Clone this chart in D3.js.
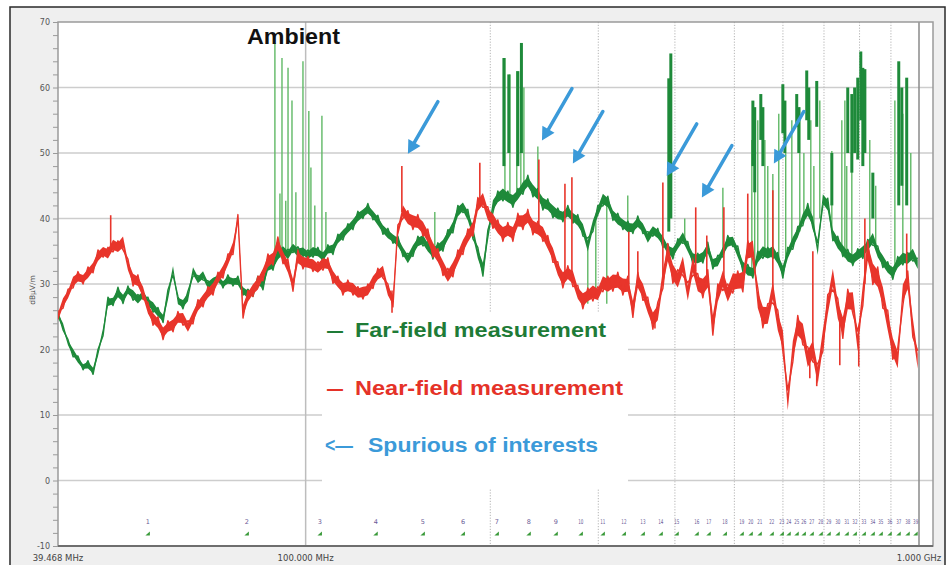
<!DOCTYPE html>
<html>
<head>
<meta charset="utf-8">
<script src="https://cdn.jsdelivr.net/npm/d3@7"></script>
<style>
  body { margin: 0; background: #fff; }
  svg { display: block; }
</style>
</head>
<body>
<svg id="chart" width="947" height="565"></svg>
<script>
// Sweep frequencies (MHz) and the two measured traces (dBµV/m, bin centre level)
const sweepMHz = [
  39.47, 40.22, 40.98, 41.77, 42.54, 43.36, 44.17, 45.02, 45.86, 46.74,
  47.61, 48.53, 49.43, 50.38, 51.32, 52.31, 53.28, 54.31, 55.32, 56.39,
  57.44, 58.55, 59.63, 60.78, 61.91, 63.10, 64.28, 65.52, 66.74, 68.03,
  69.29, 70.63, 71.94, 73.33, 74.69, 76.13, 77.55, 79.05, 80.51, 82.06,
  83.59, 85.20, 86.79, 88.46, 90.10, 91.84, 93.55, 95.36, 97.13, 99.00,
  100.84, 102.79, 104.70, 106.72, 108.70, 110.80, 112.86, 115.04, 117.18, 119.44,
  121.66, 124.01, 126.31, 128.75, 131.14, 133.67, 136.16, 138.79, 141.37, 144.10,
  146.77, 149.60, 152.39, 155.33, 158.21, 161.26, 164.26, 167.43, 170.55, 173.84,
  177.07, 180.49, 183.84, 187.39, 190.87, 194.55, 198.17, 201.99, 205.75, 209.72,
  213.62, 217.74, 221.79, 226.07, 230.27, 234.71, 239.08, 243.69, 248.22, 253.01,
  257.71, 262.68, 267.57, 272.73, 277.80, 283.16, 288.43, 293.99, 299.46, 305.24,
  310.91, 316.91, 322.80, 329.03, 335.14, 341.61, 347.96, 354.68, 361.27, 368.24,
  375.09, 382.33, 389.43, 396.95, 404.33, 412.13, 419.79, 427.89, 435.84, 444.25,
  452.51, 461.24, 469.82, 478.88, 487.79, 497.20, 506.44, 516.21, 525.81, 535.96,
  545.92, 556.46, 566.80, 577.74, 588.48, 599.84, 610.98, 622.77, 634.35, 646.59,
  658.61, 671.31, 683.80, 696.98, 709.95, 723.65, 737.10, 751.33, 765.29, 780.06,
  794.56, 809.90, 824.95, 840.87, 856.50, 873.03, 889.26, 906.42, 923.27, 941.09,
  958.58, 977.08, 995.24
];

const farField = [
  25.2, 23.6, 21, 19.6, 18.4, 17.4, 17.6, 16.8, 19.4, 22.8,
  27.2, 27.4, 28.6, 27.8, 29, 28.4, 27.6, 28.4, 27.2, 26.6,
  25.6, 24.8, 28.2, 32.2, 27.4, 27, 28, 32, 30.6, 31.4,
  29.8, 30.4, 30.8, 30, 30.6, 30.4, 30.4, 29, 28.4, 28.8,
  30.4, 30, 32.6, 33, 34.4, 35.2, 34.4, 35.6, 34.8, 35,
  34.4, 35, 34.8, 34.2, 35.2, 35.4, 36.8, 37.6, 38.4, 39.2,
  40.2, 40.8, 41.4, 40.6, 39.6, 38.4, 37.6, 37, 36.4, 35,
  33.8, 35.2, 36.4, 36.8, 35.6, 34.8, 35.4, 36, 37.4, 38.8,
  41, 41.8, 40.4, 38, 34.6, 32.4, 37.2, 42, 43.2, 43.8,
  43.2, 42.8, 43.6, 44.8, 45.6, 44.4, 43.6, 42.4, 42, 41.2,
  40.6, 40.4, 41, 40.2, 39.6, 38.4, 35.8, 39, 41, 43,
  42.4, 40.6, 39.8, 39.2, 38.6, 38.6, 39.4, 38.6, 37, 38.2,
  37.6, 36.6, 35.2, 34.8, 36, 37.2, 35.6, 34, 33.8, 34.2,
  35.4, 33.2, 33.4, 35, 36.4, 36.6, 34.8, 32.8, 32, 31.8,
  34, 35, 34.6, 35, 33.8, 32, 34.6, 36.4, 37.8, 40,
  41.2, 39.6, 35.2, 43, 42, 37.6, 36.2, 35.2, 34.2, 33.8,
  34.4, 35, 35.8, 37, 34.8, 33.6, 32.4, 31.8, 33.2, 34,
  33.8, 34.6, 33
];

// Half-span between peak and valley detector within each bin (dB)
const farSpan = [
  0.5, 0.6, 0.5, 0.7, 0.6, 0.5, 0.7, 0.6, 0.6, 0.7,
  0.8, 0.7, 0.9, 0.8, 0.7, 0.9, 0.8, 0.7, 0.8, 0.9,
  0.8, 0.7, 0.9, 0.8, 0.7, 0.8, 0.9, 0.8, 0.7, 0.8,
  0.7, 0.8, 0.7, 0.6, 0.8, 0.7, 0.8, 0.7, 0.8, 0.7,
  0.8, 0.9, 0.8, 0.9, 1.0, 0.8, 0.9, 0.8, 0.9, 0.8,
  0.8, 0.9, 0.8, 0.9, 0.8, 0.9, 0.8, 0.9, 0.8, 0.9,
  0.9, 0.8, 0.9, 0.8, 0.9, 0.8, 0.9, 0.8, 0.9, 0.8,
  0.9, 1.0, 0.9, 1.0, 0.9, 1.0, 0.9, 1.0, 0.9, 1.0,
  1.0, 0.9, 1.0, 1.1, 1.0, 1.2, 1.0, 1.1, 1.0, 1.1,
  1.0, 1.1, 1.0, 1.1, 1.0, 1.1, 1.0, 1.1, 1.0, 1.1,
  1.0, 0.9, 1.0, 0.9, 1.0, 1.1, 1.2, 1.0, 1.0, 1.1,
  1.0, 0.9, 1.0, 0.9, 1.0, 0.9, 1.0, 0.9, 1.0, 0.9,
  0.9, 1.0, 0.9, 1.0, 0.9, 1.0, 0.9, 1.0, 0.9, 1.0,
  1.0, 0.9, 1.0, 0.9, 1.0, 0.9, 1.0, 0.9, 1.0, 0.9,
  1.0, 1.1, 1.0, 1.1, 1.0, 1.1, 1.0, 1.1, 1.0, 1.1,
  1.1, 1.0, 1.1, 1.0, 1.1, 1.0, 1.1, 1.0, 1.1, 1.0,
  1.0, 1.1, 1.0, 1.1, 1.0, 1.1, 1.0, 1.1, 1.0, 1.1,
  1.0, 1.1, 1.0
];

const nearField = [
  25, 27.2, 28.4, 30.4, 31, 30.8, 31.6, 32.6, 34.2, 35,
  34.6, 36, 35.6, 36.4, 32.8, 30.8, 30.4, 28.8, 26.2, 24.8,
  24, 22.6, 23.4, 23.8, 24.8, 24.8, 23.4, 25, 26.6, 27.6,
  28.6, 29.4, 30.8, 32, 33.6, 35.6, 39.8, 26, 28, 29.2,
  30, 31.6, 33.4, 34, 36, 34.2, 32.6, 30, 34, 33.4,
  33.2, 33, 32.4, 33.2, 33, 31.2, 30.2, 29.4, 29.6, 29.4,
  28.6, 28.8, 29, 30.4, 31.4, 32, 29, 27.6, 38, 41.2,
  40, 39.6, 39.4, 38.6, 37.2, 35.4, 34.2, 32.6, 31.2, 32.4,
  34, 35.8, 37.2, 38.6, 42, 43, 40.6, 39.8, 38.6, 37.8,
  38.2, 37.8, 39.6, 39.6, 40.2, 38.8, 38.4, 37.8, 36.2, 34.6,
  32.2, 30.8, 31.6, 31, 28.6, 27.6, 28.2, 28.8, 28.4, 30.2,
  29.8, 30.4, 30.4, 29.8, 29.8, 26.4, 30.4, 29, 26.6, 24.6,
  25.6, 31, 34.6, 31.8, 30.6, 33, 28.6, 33, 30, 29.6,
  30.6, 24, 28.4, 30.8, 28.4, 30.4, 30.4, 30.6, 35, 35.4,
  27.6, 25.2, 25.2, 29, 24.2, 21.6, 12, 20, 23.4, 22.6,
  18.6, 20, 16, 21.6, 26.6, 31, 26, 23.6, 27.4, 27.4,
  21, 28.6, 34.8, 31.8, 30.8, 28.2, 24.2, 20.4, 18.4, 28.6,
  30.4, 23.6, 18.2
];

const nearSpan = [
  0.8, 0.9, 0.8, 1.0, 0.9, 0.8, 1.0, 0.9, 1.0, 0.9,
  1.0, 1.1, 1.0, 1.2, 1.0, 1.1, 1.0, 1.1, 1.0, 1.1,
  1.0, 1.1, 1.0, 1.1, 1.0, 1.1, 1.0, 1.1, 1.0, 1.1,
  1.0, 1.1, 1.0, 1.1, 1.0, 1.1, 0.8, 1.2, 1.0, 1.1,
  1.2, 1.1, 1.2, 1.1, 1.2, 1.1, 1.2, 1.1, 1.2, 1.1,
  1.0, 1.1, 1.0, 1.1, 1.0, 1.1, 1.0, 1.1, 1.0, 1.1,
  1.0, 1.1, 1.0, 1.1, 1.0, 1.1, 1.0, 1.1, 1.0, 1.2,
  1.2, 1.3, 1.2, 1.3, 1.2, 1.3, 1.2, 1.3, 1.2, 1.3,
  1.2, 1.3, 1.2, 1.3, 1.2, 1.3, 1.2, 1.3, 1.2, 1.3,
  1.2, 1.3, 1.2, 1.3, 1.2, 1.3, 1.2, 1.3, 1.2, 1.3,
  1.2, 1.4, 1.2, 1.4, 1.2, 1.4, 1.2, 1.4, 1.2, 1.4,
  1.4, 1.5, 1.4, 1.5, 1.4, 1.5, 1.4, 1.5, 1.4, 1.5,
  1.6, 1.7, 1.6, 1.7, 1.6, 1.7, 1.6, 1.7, 1.6, 1.7,
  1.6, 1.8, 1.6, 1.8, 1.6, 1.8, 1.6, 1.8, 1.6, 1.8,
  1.8, 1.9, 1.8, 1.9, 1.8, 1.9, 1.8, 1.9, 1.8, 1.9,
  1.8, 1.9, 1.8, 1.9, 1.8, 1.9, 1.8, 1.9, 1.8, 1.9,
  1.8, 1.9, 1.8, 1.9, 1.8, 1.9, 1.8, 1.9, 1.8, 1.9,
  1.6, 1.7, 1.6
];

// Narrow emissions on the far-field trace: [MHz, from dB, to dB]
const farSpurs = [
  [89.1, 33, 66.8], [90.8, 34, 43.8], [91.5, 34, 64.5], [92.8, 35, 42.7],
  [93.6, 34, 63], [95.0, 35, 58], [96.4, 35, 44], [99.0, 35, 64],
  [101.2, 34, 56.4], [102.0, 35, 47.8], [103.5, 35, 42], [106.3, 34, 55.7],
  [107.9, 35, 41], [162.4, 35, 41],
  [211.3, 44, 64.5], [215.3, 43, 62], [220.9, 43, 62.5], [224.3, 44, 66.8], [226.9, 45, 60],
  [239.1, 43.6, 51], [288.4, 35.8, 27], [297.2, 40, 28], [309.7, 42, 27],
  [335.1, 38.6, 43.5], [415.0, 36, 40], [478.9, 35, 44.7],
  [533.9, 32, 52], [539.7, 32, 50], [545.9, 34, 55], [560.7, 35, 52], [566.8, 34.6, 48],
  [577.7, 35, 46.8], [590.7, 33, 56], [606.3, 34, 50], [620.4, 36, 55], [639.2, 38, 57],
  [649.1, 40, 50], [666.2, 40, 55], [673.9, 38, 48], [689.1, 40, 58],
  [720.9, 38, 50.3], [748.5, 35, 55], [757.1, 34, 58], [762.4, 34, 48], [777.1, 34, 56],
  [831.3, 36, 52], [850.0, 36, 45], [913.4, 32, 58], [941.1, 34, 56], [969.6, 34, 50]
];

// Intermittent carriers held near the top of the far-field sweep: [MHz, bottom dB, top dB]
const farBursts = [
  [210.5, 48, 64.5], [214.4, 50, 62], [221.8, 48, 62.5], [224.8, 50, 66.8],
  [390.9, 38, 61.4], [393.9, 40, 65.2],
  [536.0, 48, 58], [539.7, 44, 57], [552.2, 52, 59], [556.5, 48, 57],
  [599.8, 53, 60.5], [604.5, 50, 58], [631.9, 54, 59], [636.8, 50, 57],
  [656.1, 55, 62.6], [661.1, 52, 60], [681.2, 54, 61], [720.9, 42, 50],
  [765.3, 50, 60], [777.1, 47, 59], [785.4, 50, 60], [794.6, 49, 61.5],
  [803.7, 55, 65.5], [809.9, 48, 63], [816.1, 50, 62.8], [840.9, 40, 47],
  [926.8, 42, 64], [937.5, 45, 60], [954.9, 42, 61.5]
];

// Narrow emissions on the near-field trace: [MHz, from dB, to dB]
const nearSpurs = [
  [48.1, 35, 40.5], [138.3, 29, 25.6], [143.5, 41, 48], [192.3, 42, 48.5],
  [240.0, 38.4, 49], [264.7, 31, 45.3], [271.7, 31, 46.3], [336.4, 30, 38],
  [348.0, 30, 35], [371.1, 25, 23.2], [382.3, 31, 45.5], [432.5, 32, 41.7],
  [450.8, 30, 37.4], [480.7, 31, 41.7], [525.8, 35, 43.8], [577.7, 29, 44.3],
  [663.7, 19, 15.6], [671.3, 20, 35], [681.2, 18, 14.4], [742.8, 26, 17.6],
  [797.6, 22, 17.4], [816.1, 30, 40], [954.9, 29, 37.7]
];

// Spurious emissions singled out with arrows: tip position [MHz, dB]
const arrowTips = [
  [146.8, 49.9], [242.8, 51.9], [272.7, 48.4], [387.9, 46.5], [442.6, 43.2], [579.9, 48.4]
];

// Numbered markers along the bottom of the plot
const markerMHz = [
  55.3, 80.2, 105.5, 130.1, 155.3, 180.5, 205.0, 231.1, 255.8, 281.0,
  305.2, 330.3, 354.7, 379.4, 402.8, 434.2, 454.2, 482.6, 514.2, 531.9,
  550.1, 575.5, 597.6, 613.3, 631.9, 649.1, 668.7, 691.7, 712.7, 737.1,
  762.4, 786.1, 813.0, 840.9, 866.4, 896.1, 926.8, 958.6, 987.7
];

const yTickValues = [-10, 0, 10, 20, 30, 40, 50, 60, 70];
const dottedGridMHz = [200, 300, 400, 500, 600, 700, 800, 900];
const freqLabels = [[39.468, "39.468 MHz"], [100, "100.000 MHz"], [1000, "1.000 GHz"]];

const C = {
  far: "#1e8a3a", farLight: "#5fb865", near: "#e8352b",
  blue: "#3b9ad9", grid: "#cdcdcd", axisText: "#555"
};

const svg = d3.select("#chart");
const H = 565;
const plot = { left: 58, top: 22, right: 933, bottom: 546 };

const x = d3.scaleLog().domain([39.468, 1000]).range([58, 919]);
const y = d3.scaleLinear().domain([-10, 70]).range([546, 22]);

// Outer panel
svg.append("rect").attr("x", 10).attr("y", 7).attr("width", 935).attr("height", H)
  .attr("fill", "#efefef").attr("stroke", "#2a2a2a").attr("stroke-width", 1.5);

// Plot area
svg.append("rect").attr("x", plot.left).attr("y", plot.top)
  .attr("width", plot.right - plot.left).attr("height", plot.bottom - plot.top)
  .attr("fill", "#fff");

const defs = svg.append("defs");
defs.append("clipPath").attr("id", "plotClip").append("rect")
  .attr("x", plot.left).attr("y", plot.top)
  .attr("width", plot.right - plot.left).attr("height", plot.bottom - plot.top);

// Horizontal grid
svg.append("g").selectAll("line").data(yTickValues.filter(d => d > -10 && d < 70)).join("line")
  .attr("x1", plot.left).attr("x2", plot.right)
  .attr("y1", d => y(d)).attr("y2", d => y(d))
  .attr("stroke", C.grid).attr("stroke-width", 1.5);

// Vertical grid: decades solid, intermediate dotted
svg.append("g").selectAll("line").data(dottedGridMHz).join("line")
  .attr("x1", d => x(d)).attr("x2", d => x(d))
  .attr("y1", plot.top).attr("y2", plot.bottom)
  .attr("stroke", "#b4b4b4").attr("stroke-width", 1).attr("stroke-dasharray", "1.2,1.6");
svg.append("g").selectAll("line").data([100, 1000]).join("line")
  .attr("x1", d => x(d)).attr("x2", d => x(d))
  .attr("y1", plot.top).attr("y2", plot.bottom)
  .attr("stroke", d => d === 100 ? "#bdbdbd" : "#8a8a8a").attr("stroke-width", 1.5);

// Legend panel background
svg.append("rect").attr("x", 322).attr("y", 312).attr("width", 306).attr("height", 176)
  .attr("fill", "#fff");

// Plot frame
svg.append("rect").attr("x", plot.left).attr("y", plot.top)
  .attr("width", plot.right - plot.left).attr("height", plot.bottom - plot.top)
  .attr("fill", "none").attr("stroke", "#9a9a9a").attr("stroke-width", 1.5);
svg.append("line").attr("x1", plot.left).attr("x2", plot.right)
  .attr("y1", plot.bottom).attr("y2", plot.bottom)
  .attr("stroke", "#6e6e6e").attr("stroke-width", 2);

// Y axis
const yAxis = d3.axisLeft(y).tickValues(d3.range(-10, 71, 2))
  .tickSize(5).tickPadding(3)
  .tickFormat(d => d % 10 === 0 ? d : "");
const yg = svg.append("g").attr("transform", `translate(${plot.left},0)`).call(yAxis);
yg.select(".domain").remove();
yg.selectAll("line").attr("stroke", "#9a9a9a");
yg.selectAll("text").attr("fill", C.axisText)
  .style("font-family", "'DejaVu Sans', Verdana, sans-serif").style("font-size", "8px");

svg.append("text").attr("transform", `translate(35,290) rotate(-90)`)
  .attr("text-anchor", "middle").attr("fill", C.axisText)
  .style("font-family", "'DejaVu Sans', Verdana, sans-serif").style("font-size", "7.5px")
  .text("dBµV/m");

// Frequency labels
svg.append("g").selectAll("text").data(freqLabels).join("text")
  .attr("x", d => x(d[0])).attr("y", 561).attr("text-anchor", "middle")
  .attr("fill", "#444")
  .style("font-family", "'DejaVu Sans', Verdana, sans-serif").style("font-size", "8.5px")
  .text(d => d[1]);

// Traces: the band between valley and peak detector, outlined by an alternating peak/valley line
const gData = svg.append("g").attr("clip-path", "url(#plotClip)");
const traceLine = d3.line().x(d => x(d[0])).y(d => y(d[1]));
const detectorPoints = (vals, span) => vals.map((v, i) =>
  [sweepMHz[i], i % 2 === 0 ? v + span[i] : v - span[i]]);
const band = d3.area()
  .x((d, i) => x(sweepMHz[i]))
  .y0(d => y(d[0] - d[1] * 0.7)).y1(d => y(d[0] + d[1] * 0.7));

function drawTrace(vals, span, color, width) {
  gData.append("path").attr("d", band(vals.map((v, i) => [v, span[i]])))
    .attr("fill", color).attr("stroke", "none");
  gData.append("path").attr("d", traceLine(detectorPoints(vals, span)))
    .attr("fill", "none").attr("stroke", color).attr("stroke-width", width)
    .attr("stroke-linejoin", "round");
}

gData.append("g").selectAll("line").data(farSpurs).join("line")
  .attr("x1", d => x(d[0])).attr("x2", d => x(d[0]))
  .attr("y1", d => y(d[1])).attr("y2", d => y(d[2]))
  .attr("stroke", C.farLight).attr("stroke-width", 1.4);

drawTrace(farField, farSpan, C.far, 1.4);

gData.append("g").selectAll("line").data(farBursts).join("line")
  .attr("x1", d => x(d[0])).attr("x2", d => x(d[0]))
  .attr("y1", d => y(d[1])).attr("y2", d => y(d[2]))
  .attr("stroke", C.far).attr("stroke-width", 3);

drawTrace(nearField, nearSpan, C.near, 1.4);

gData.append("g").selectAll("line").data(nearSpurs).join("line")
  .attr("x1", d => x(d[0])).attr("x2", d => x(d[0]))
  .attr("y1", d => y(d[1])).attr("y2", d => y(d[2]))
  .attr("stroke", C.near).attr("stroke-width", 1.6);

// Markers: number above a small green flag; two-digit numbers are squeezed where they crowd
const mg = svg.append("g");
mg.selectAll("text").data(markerMHz).join("text")
  .attr("x", d => x(d)).attr("y", y(-6.6)).attr("text-anchor", "middle")
  .attr("fill", "#6a5a96")
  .style("font-family", "'DejaVu Sans', Verdana, sans-serif").style("font-size", "6.5px")
  .each(function (d, i) {
    if (i + 1 >= 10) d3.select(this).attr("textLength", 5.2).attr("lengthAdjust", "spacingAndGlyphs");
  })
  .text((d, i) => i + 1);
mg.selectAll("path").data(markerMHz).join("path")
  .attr("transform", d => `translate(${x(d)},${y(-8.0)})`)
  .attr("d", "M-2.5,2.5 L2,2.5 L2,-1.5 Z")
  .attr("fill", "#3a9a3a");

// Arrows pointing to spurious emissions
const ag = svg.append("g");
arrowTips.forEach(([f, db]) => {
  const tx = x(f), ty = y(db);
  const sx = tx + 30, sy = ty - 52;
  const len = Math.hypot(tx - sx, ty - sy);
  const ux = (tx - sx) / len, uy = (ty - sy) / len;
  const head = 13, half = 7;
  const bx = tx - ux * head, by = ty - uy * head;
  ag.append("line").attr("x1", sx).attr("y1", sy).attr("x2", bx + ux * 2).attr("y2", by + uy * 2)
    .attr("stroke", C.blue).attr("stroke-width", 3.5).attr("stroke-linecap", "round");
  ag.append("path")
    .attr("d", `M${tx},${ty} L${bx - uy * half},${by + ux * half} L${bx + uy * half},${by - ux * half} Z`)
    .attr("fill", C.blue);
});

// Title and legend
const boldFont = "'Liberation Sans', Arial, Helvetica, sans-serif";
svg.append("text").attr("x", 247).attr("y", 44)
  .attr("textLength", 93).attr("lengthAdjust", "spacingAndGlyphs")
  .attr("fill", "#111").style("font-family", boldFont).style("font-weight", "bold")
  .style("font-size", "22px").text("Ambient");

const legendRows = [
  { mark: "—", markX: 327, markW: 16, label: "Far-field measurement", labelX: 355, w: 251, y: 337, color: "#1e7b37" },
  { mark: "—", markX: 327, markW: 16, label: "Near-field measurement", labelX: 355, w: 268, y: 395, color: "#e53228" },
  { mark: "<—", markX: 325, markW: 28, label: "Spurious of interests", labelX: 368, w: 230, y: 452, color: C.blue }
];
const lg = svg.append("g").style("font-family", boldFont).style("font-weight", "bold").style("font-size", "20px");
legendRows.forEach(r => {
  lg.append("text").attr("x", r.markX).attr("y", r.y).attr("fill", r.color)
    .attr("textLength", r.markW).attr("lengthAdjust", "spacingAndGlyphs").text(r.mark);
  lg.append("text").attr("x", r.labelX).attr("y", r.y).attr("fill", r.color)
    .attr("textLength", r.w).attr("lengthAdjust", "spacingAndGlyphs").text(r.label);
});
</script>
</body>
</html>
